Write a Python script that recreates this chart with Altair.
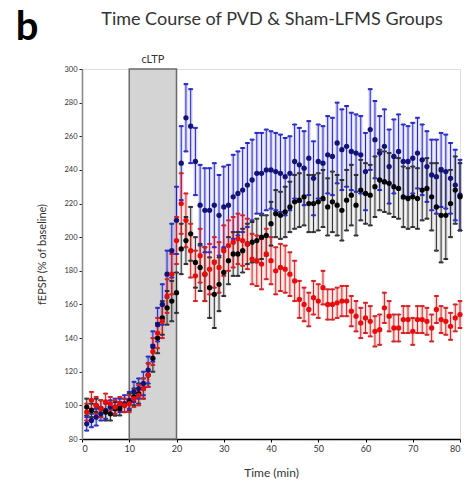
import altair as alt
import pandas as pd

# ---- data ----
times = list(range(1, 81))

blue_mean = [89, 91, 93, 95, 97, 99, 99, 100, 101, 103,
             108, 110, 113, 121, 135, 148, 160, 178, 192, 210,
             244, 271, 266, 245, 219, 216, 216, 219, 213, 218,
             219, 224, 226, 228, 231, 234, 238, 238, 240, 240,
             239, 238, 236, 238, 245, 243, 241, 247, 235, 245,
             244, 249, 248, 256, 252, 254, 251, 250, 249, 239,
             264, 258, 250, 254, 242, 248, 251, 245, 245, 247,
             250, 246, 242, 237, 236, 240, 239, 235, 231, 225]
blue_err = [4, 4, 5, 4, 5, 4, 5, 4, 5, 5,
            6, 6, 7, 8, 9, 10, 12, 14, 16, 20,
            22, 20, 22, 20, 24, 25, 25, 25, 24, 24,
            24, 25, 25, 25, 25, 24, 24, 24, 24, 23,
            23, 23, 23, 22, 22, 22, 22, 22, 22, 22,
            22, 23, 23, 24, 24, 24, 23, 23, 23, 23,
            24, 23, 22, 22, 22, 22, 22, 22, 21, 21,
            21, 21, 21, 21, 22, 22, 22, 21, 21, 21]

black_mean = [99, 97, 100, 98, 96, 95, 98, 98, 100, 102,
              105, 107, 110, 118, 128, 140, 152, 158, 162, 167,
              193, 198, 202, 185, 182, 178, 170, 166, 172, 179,
              186, 190, 190, 192, 196, 197, 198, 200, 201, 208,
              214, 213, 215, 218, 221, 222, 224, 220, 220, 221,
              223, 218, 221, 219, 216, 222, 225, 219, 228, 226,
              225, 230, 234, 233, 232, 230, 229, 224, 223, 224,
              223, 228, 229, 224, 218, 213, 213, 220, 228, 224]
black_err = [5, 4, 4, 5, 5, 4, 4, 4, 4, 5,
             5, 6, 6, 7, 8, 9, 10, 10, 12, 12,
             15, 14, 16, 15, 14, 16, 18, 20, 16, 14,
             14, 13, 13, 13, 12, 12, 13, 13, 12, 13,
             14, 14, 15, 15, 16, 16, 17, 17, 17, 17,
             17, 17, 18, 18, 18, 18, 18, 18, 18, 18,
             18, 18, 18, 18, 18, 18, 18, 18, 18, 18,
             18, 18, 18, 20, 26, 28, 26, 20, 20, 20]

red_mean = [96, 103, 100, 98, 102, 101, 99, 101, 100, 101,
            104, 106, 110, 118, 132, 143, 150, 165, 178, 198,
            220, 210, 192, 177, 189, 178, 181, 185, 182, 192,
            195, 197, 199, 198, 196, 187, 186, 184, 190, 186,
            180, 182, 181, 178, 174, 163, 160, 157, 164, 162,
            170, 160, 160, 161, 162, 162, 156, 153, 149, 152,
            150, 144, 145, 158, 153, 146, 146, 151, 151, 144,
            151, 151, 150, 146, 157, 151, 150, 147, 152, 154]
red_err = [5, 5, 5, 5, 5, 4, 4, 4, 4, 5,
           5, 6, 6, 7, 8, 9, 10, 10, 12, 14,
           18, 16, 16, 15, 16, 16, 15, 15, 15, 15,
           15, 15, 15, 15, 15, 15, 15, 15, 15, 14,
           14, 14, 14, 13, 12, 11, 10, 10, 10, 10,
           10, 9, 9, 9, 9, 9, 9, 9, 9, 9,
           9, 9, 9, 9, 9, 8, 8, 8, 8, 8,
           8, 8, 8, 8, 8, 8, 8, 8, 8, 8]

groups = ["Blue", "Black", "Red"]
cltp_start = [10]
cltp_end = [20]
x_ticks = list(range(0, 81, 10))
y_ticks = list(range(80, 301, 20))

rows = []
for g, m, e in [("Blue", blue_mean, blue_err), ("Black", black_mean, black_err), ("Red", red_mean, red_err)]:
    for t, v, s in zip(times, m, e):
        rows.append({"t": t, "v": v, "e": s, "g": g})
df = pd.DataFrame(rows)

FONT = "Lato"
xs = alt.Scale(domain=[0, 80], nice=False)
ys = alt.Scale(domain=[80, 300], nice=False)

xaxis = alt.Axis(values=x_ticks, grid=False, domainColor="#000", domainWidth=1.6,
                 tickColor="#000", tickSize=3, labelFontSize=9, labelColor="#333", labelFont=FONT,
                 titleFontSize=12, titleFont=FONT, titleColor="#333", titleFontWeight="normal",
                 titlePadding=14)
yaxis = alt.Axis(values=y_ticks, grid=False, domainColor="#8a8a8a", domainWidth=1.6,
                 tickColor="#222", tickSize=3, labelFontSize=7.5, labelColor="#333", labelFont=FONT,
                 labelOverlap=False,
                 titleFontSize=11, titleFont=FONT, titleColor="#333", titleFontWeight="normal",
                 titlePadding=16)
XT = "Time (min)"
YT = "fEPSP (% of baseline)"

dark = alt.Scale(domain=groups, range=["#2222c8", "#2a2a2a", "#e01818"])
tint = alt.Scale(domain=groups, range=["#8c8cff", "#9a9a9a", "#ff8a8a"])
ptfill = alt.Scale(domain=groups, range=["#12127a", "#050505", "#e80c0c"])

base = alt.Chart(df).transform_calculate(lo="datum.v - datum.e", hi="datum.v + datum.e")

rect = alt.Chart(pd.DataFrame({"a": cltp_start, "b": cltp_end, "y0": [80], "y1": [300]})).mark_rect(
    fill="#d4d4d4", stroke="#6a6a6a", strokeWidth=1.5
).encode(
    x=alt.X("a:Q", scale=xs, title=XT, axis=xaxis), x2="b:Q",
    y=alt.Y("y0:Q", scale=ys, title=YT, axis=yaxis), y2="y1:Q",
)

bar_tint = base.mark_rule(strokeWidth=4, opacity=0.3).encode(
    x=alt.X("t:Q", scale=xs, title=XT, axis=xaxis), y=alt.Y("lo:Q", scale=ys, title=YT, axis=yaxis), y2="hi:Q",
    color=alt.Color("g:N", scale=tint, legend=None))
bar_line = base.mark_rule(strokeWidth=1).encode(
    x=alt.X("t:Q", scale=xs, title=XT, axis=xaxis), y=alt.Y("lo:Q", scale=ys, title=YT, axis=yaxis), y2="hi:Q",
    stroke=alt.Stroke("g:N", scale=dark, legend=None))
cap_lo = base.mark_tick(orient="horizontal", size=4, thickness=1, opacity=1).encode(
    x=alt.X("t:Q", scale=xs, title=XT, axis=xaxis), y=alt.Y("lo:Q", scale=ys, title=YT, axis=yaxis),
    stroke=alt.Stroke("g:N", scale=dark, legend=None))
cap_hi = base.mark_tick(orient="horizontal", size=4, thickness=1, opacity=1).encode(
    x=alt.X("t:Q", scale=xs, title=XT, axis=xaxis), y=alt.Y("hi:Q", scale=ys, title=YT, axis=yaxis),
    stroke=alt.Stroke("g:N", scale=dark, legend=None))
pts = base.mark_circle(size=28, opacity=1).encode(
    x=alt.X("t:Q", scale=xs, title=XT, axis=xaxis), y=alt.Y("v:Q", scale=ys, title=YT, axis=yaxis),
    fill=alt.Fill("g:N", scale=ptfill, legend=None))

cltp_label = alt.Chart(pd.DataFrame({"x": [15], "y": [300], "s": ["cLTP"]})).mark_text(
    font=FONT, fontSize=11, color="#333", dy=-9).encode(
    x=alt.X("x:Q", scale=xs, title=XT, axis=xaxis), y=alt.Y("y:Q", scale=ys, title=YT, axis=yaxis), text="s:N")

title = alt.Chart(pd.DataFrame({"s": ["Time Course of PVD & Sham-LFMS Groups"]})).mark_text(
    font=FONT, fontSize=18, color="#333", align="center", baseline="alphabetic").encode(
    x=alt.value(190), y=alt.value(-44), text="s:N")
letter = alt.Chart(pd.DataFrame({"s": ["b"]})).mark_text(
    font=FONT, fontSize=40, fontWeight="bold", color="#000", align="center", baseline="alphabetic").encode(
    x=alt.value(-55), y=alt.value(-29), text="s:N")

chart = alt.layer(rect, bar_tint, bar_line, cap_lo, cap_hi, pts, cltp_label, title, letter).resolve_scale(
    color="independent", stroke="independent", fill="independent"
).properties(
    width=378, height=370,
    autosize=alt.AutoSizeParams(type="none"),
    padding={"left": 82, "top": 69, "right": 14, "bottom": 58},
).configure_view(stroke=None).configure_axisY(labelOverlap=False).configure(background="white")

chart.save("out.html", embed_options={"renderer": "svg", "actions": False})
